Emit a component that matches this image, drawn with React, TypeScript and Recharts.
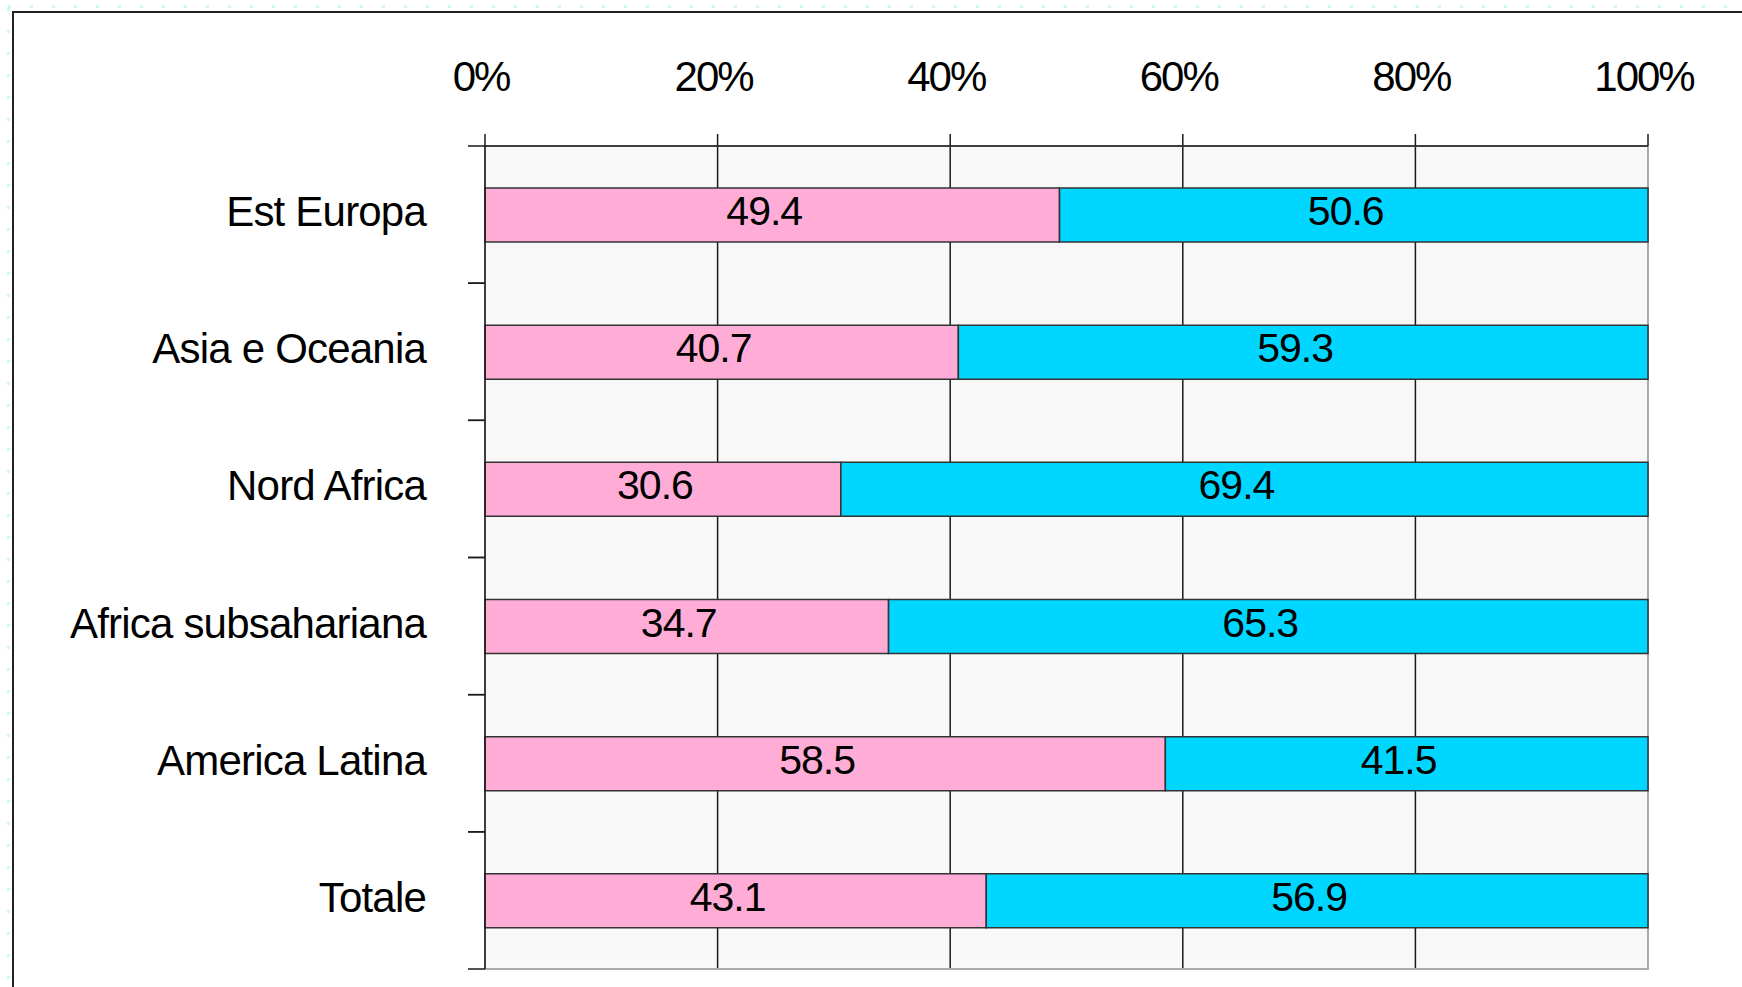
import {
  BarChart,
  Bar,
  XAxis,
  YAxis,
  CartesianGrid,
  ReferenceArea,
  LabelList,
} from "recharts";

const categories = [
  "Est Europa",
  "Asia e Oceania",
  "Nord Africa",
  "Africa subsahariana",
  "America Latina",
  "Totale",
];
const femmine = [49.4, 40.7, 30.6, 34.7, 58.5, 43.1];
const maschi = [50.6, 59.3, 69.4, 65.3, 41.5, 56.9];
const xTicks = [0, 20, 40, 60, 80, 100];

const data = categories.map((name, i) => ({
  name,
  femmine: femmine[i],
  maschi: maschi[i],
}));

// layout
const W = 1742;
const H = 987;
const PLOT_LEFT = 485;
const PLOT_TOP = 146;
const PLOT_RIGHT = 1648;
const PLOT_BOTTOM = 969;
const BAND = (PLOT_BOTTOM - PLOT_TOP) / categories.length;
const FONT = "'Liberation Sans', Arial, sans-serif";
const DARK = "#1a1a1a";

const TopTick = (props: any) => {
  const { x, payload } = props;
  return (
    <text
      x={x - 4}
      y={PLOT_TOP - 70}
      textAnchor="middle"
      dominantBaseline="central"
      fontFamily={FONT}
      fontSize={42}
      letterSpacing={-2}
      fill="#000"
    >
      {payload.value}%
    </text>
  );
};

const LeftTick = (props: any) => {
  const { y, payload } = props;
  return (
    <g>
      <line x1={PLOT_LEFT - 17} x2={PLOT_LEFT} y1={y - BAND / 2} y2={y - BAND / 2} stroke={DARK} strokeWidth={1.5} />
      <line x1={PLOT_LEFT - 17} x2={PLOT_LEFT} y1={y + BAND / 2} y2={y + BAND / 2} stroke={DARK} strokeWidth={1.5} />
      <text
        x={426}
        y={y - 3}
        textAnchor="end"
        dominantBaseline="central"
        fontFamily={FONT}
        fontSize={42}
        letterSpacing={-0.8}
        fill="#000"
      >
        {payload.value}
      </text>
    </g>
  );
};

const valueLabel = (p: any) => (
  <text
    x={p.x + p.width / 2 - 8}
    y={p.y + p.height / 2 - 4}
    textAnchor="middle"
    dominantBaseline="central"
    fontFamily={FONT}
    fontSize={41}
    letterSpacing={-1}
    fill="#000"
  >
    {p.value}
  </text>
);

export default function App() {
  return (
    <div style={{ position: "relative", width: W, height: H, overflow: "hidden", background: "#fff" }}>
      <style>{`body{margin:0;overflow:hidden}`}</style>
      {/* selection dots */}
      <div
        style={{
          position: "absolute",
          left: 8,
          top: 5,
          width: W,
          height: 3,
          background: "repeating-linear-gradient(to right, #d2f5f9 0 3px, transparent 3px 22px)",
        }}
      />
      <div
        style={{
          position: "absolute",
          left: 7,
          top: 8,
          width: 3,
          height: H,
          background: "repeating-linear-gradient(to bottom, #d2f5f9 0 3px, transparent 3px 22px)",
        }}
      />
      {/* frame */}
      <div
        style={{
          position: "absolute",
          left: 12,
          top: 11,
          width: W,
          height: H,
          borderTop: "2px solid #222",
          borderLeft: "2px solid #222",
        }}
      />
      <div style={{ position: "absolute", left: 0, top: 0 }}>
        <BarChart
          width={W}
          height={H}
          data={data}
          layout="vertical"
          margin={{ top: 0, left: 0, right: W - PLOT_RIGHT, bottom: H - PLOT_BOTTOM }}
          barSize={54}
        >
          <CartesianGrid horizontal={false} stroke={DARK} strokeWidth={1.5} fill="#f8f8f8" fillOpacity={1} />
          <ReferenceArea
            x1={0}
            x2={100}
            y1={categories[0]}
            y2={categories[categories.length - 1]}
            fill="none"
            stroke="#aaa"
            strokeWidth={2}
            strokeOpacity={1}
          />
          <XAxis
            type="number"
            orientation="top"
            domain={[0, 100]}
            ticks={xTicks}
            height={PLOT_TOP}
            tickSize={12}
            tick={<TopTick />}
            axisLine={{ stroke: DARK, strokeWidth: 1.5 }}
            tickLine={{ stroke: DARK, strokeWidth: 1.5 }}
            interval={0}
          />
          <YAxis
            type="category"
            dataKey="name"
            width={PLOT_LEFT}
            tick={<LeftTick />}
            tickLine={false}
            axisLine={{ stroke: DARK, strokeWidth: 1.5 }}
            interval={0}
          />
          <Bar dataKey="femmine" stackId="a" fill="#ffadd6" stroke="#333" strokeWidth={1.5} isAnimationActive={false}>
            <LabelList dataKey="femmine" content={valueLabel} />
          </Bar>
          <Bar dataKey="maschi" stackId="a" fill="#00d6ff" stroke="#333" strokeWidth={1.5} isAnimationActive={false}>
            <LabelList dataKey="maschi" content={valueLabel} />
          </Bar>
        </BarChart>
      </div>
    </div>
  );
}
